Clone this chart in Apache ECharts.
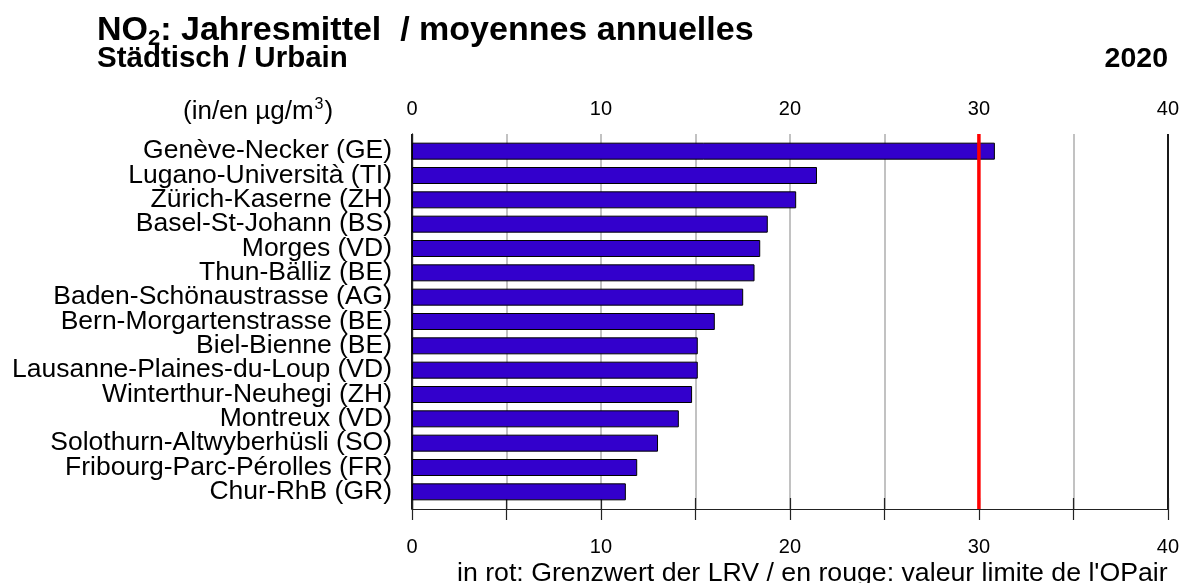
<!DOCTYPE html>
<html>
<head>
<meta charset="utf-8">
<script src="https://cdn.jsdelivr.net/npm/echarts@6/dist/echarts.min.js"></script>
<style>
html,body{margin:0;padding:0;background:#fff;}
#chart{width:1182px;height:583px;}
</style>
</head>
<body>
<div id="chart"></div>
<script>
const stations = [
  'Genève-Necker (GE)',
  'Lugano-Università (TI)',
  'Zürich-Kaserne (ZH)',
  'Basel-St-Johann (BS)',
  'Morges (VD)',
  'Thun-Bälliz (BE)',
  'Baden-Schönaustrasse (AG)',
  'Bern-Morgartenstrasse (BE)',
  'Biel-Bienne (BE)',
  'Lausanne-Plaines-du-Loup (VD)',
  'Winterthur-Neuhegi (ZH)',
  'Montreux (VD)',
  'Solothurn-Altwyberhüsli (SO)',
  'Fribourg-Parc-Pérolles (FR)',
  'Chur-RhB (GR)'
];
const no2Values = [30.8, 21.4, 20.3, 18.8, 18.4, 18.1, 17.5, 16.0, 15.1, 15.1, 14.8, 14.1, 13.0, 11.9, 11.3];
const limitValue = 30;
const axisMin = 0;
const axisMax = 40;
const tickStep = 5;
const labelStep = 10;
const titleLine1 = ['NO', '2', ': Jahresmittel  / moyennes annuelles'];
const titleLine2 = 'Städtisch / Urbain';
const yearText = '2020';
const unitText = ['(in/en µg/m', '3', ')'];
const footerText = "in rot: Grenzwert der LRV / en rouge: valeur limite de l'OPair";

const FONT = '"Liberation Sans", Arial, sans-serif';
const chart = echarts.init(document.getElementById('chart'), null, {renderer: 'canvas'});

const splitColors = ['#000'].concat(new Array(7).fill('#bcbcbc'));
function tickLabel(v) { return (v % labelStep === 0) ? String(v) : ''; }

const frameXAxisBase = {
  type: 'value', gridIndex: 0, min: axisMin, max: axisMax, interval: tickStep,
  axisLine: {show: true, lineStyle: {color: '#222', width: 1.2}},
  axisTick: {show: true, length: 11, inside: false, lineStyle: {color: '#222', width: 1.2}},
  axisLabel: {show: true, formatter: tickLabel, color: '#000', fontSize: 20, fontFamily: FONT}
};

chart.setOption({
  animation: false,
  backgroundColor: '#fff',
  title: [
    {
      left: 92, top: 8,
      text: '{a|' + titleLine1[0] + '}{s|' + titleLine1[1] + '}{a|' + titleLine1[2] + '}',
      textStyle: {
        rich: {
          a: {fontSize: 34, fontWeight: 'bold', fontFamily: FONT, color: '#000', lineHeight: 36},
          s: {fontSize: 22, fontWeight: 'bold', fontFamily: FONT, color: '#000', lineHeight: 36, padding: [15, 0, 0, 0]}
        }
      }
    },
    {
      left: 92, top: 39, text: titleLine2,
      textStyle: {fontSize: 29.5, fontWeight: 'bold', fontFamily: FONT, color: '#000'}
    },
    {
      right: 9, top: 40, text: yearText,
      textStyle: {fontSize: 28.5, fontWeight: 'bold', fontFamily: FONT, color: '#000'}
    },
    {
      left: 178, top: 92,
      text: '{a|' + unitText[0] + '}{s|' + unitText[1] + '}{a|' + unitText[2] + '}',
      textStyle: {
        fontWeight: 'normal',
        rich: {
          a: {fontSize: 26, fontWeight: 'normal', fontFamily: FONT, color: '#000', lineHeight: 30},
          s: {fontSize: 16, fontWeight: 'normal', fontFamily: FONT, color: '#000', lineHeight: 30, padding: [0, 1, 14, 1]}
        }
      }
    },
    {
      left: 452, top: 555, text: footerText,
      textStyle: {fontSize: 26.7, fontWeight: 'normal', fontFamily: FONT, color: '#000'}
    }
  ],
  grid: [
    {left: 412, right: 13, top: 134, bottom: 74, containLabel: false},
    {left: 412, right: 13, top: 139, bottom: 79, containLabel: false}
  ],
  xAxis: [
    Object.assign({}, frameXAxisBase, {
      position: 'top',
      splitLine: {show: true, lineStyle: {color: splitColors, width: 1.8}},
      axisLabel: Object.assign({}, frameXAxisBase.axisLabel, {margin: 15})
    }),
    Object.assign({}, frameXAxisBase, {
      position: 'bottom',
      splitLine: {show: false},
      axisLabel: Object.assign({}, frameXAxisBase.axisLabel, {margin: 28})
    }),
    {
      type: 'value', gridIndex: 1, min: axisMin, max: axisMax, interval: tickStep, show: false
    }
  ],
  yAxis: [
    {type: 'value', gridIndex: 0, min: 0, max: 1, position: 'left',
      axisLine: {show: true, lineStyle: {color: '#222', width: 1.2}},
      axisTick: {show: false}, axisLabel: {show: false}, splitLine: {show: false}},
    {type: 'value', gridIndex: 0, min: 0, max: 1, position: 'right',
      axisLine: {show: true, lineStyle: {color: '#222', width: 1.2}},
      axisTick: {show: false}, axisLabel: {show: false}, splitLine: {show: false}},
    {type: 'category', gridIndex: 1, data: stations, inverse: true,
      axisLine: {show: false}, axisTick: {show: false}, splitLine: {show: false},
      axisLabel: {color: '#000', fontSize: 26.5, fontFamily: FONT, margin: 20, interval: 0}}
  ],
  series: [
    {
      type: 'bar', xAxisIndex: 2, yAxisIndex: 2, data: no2Values, barWidth: 17,
      itemStyle: {color: '#3300CC', borderColor: '#000', borderWidth: 1},
      z: 3
    },
    {
      type: 'line', xAxisIndex: 0, yAxisIndex: 0,
      data: [[limitValue, 0], [limitValue, 1]],
      symbol: 'none', lineStyle: {color: '#ff0000', width: 3.5}, z: 5
    }
  ]
});
</script>
</body>
</html>
